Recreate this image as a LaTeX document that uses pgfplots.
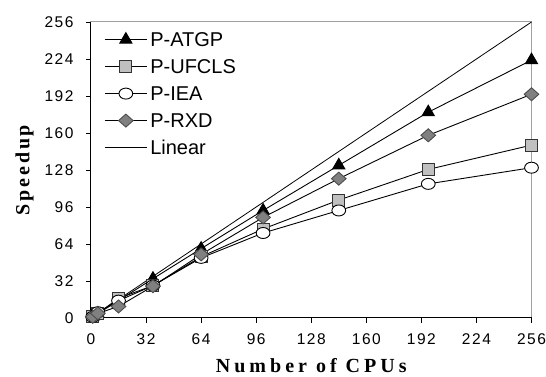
\documentclass[border=0pt]{standalone}
\usepackage{fontspec}
\setmainfont{Liberation Sans}
\newfontfamily\serifb{Liberation Serif}
\usepackage{pgfplots}
\pgfplotsset{compat=1.18}
\definecolor{sqgray}{HTML}{C0C0C0}
\definecolor{dmgray}{HTML}{808080}
\definecolor{boxgray}{HTML}{A0A0A0}
\begin{document}
\begin{tikzpicture}
\begin{axis}[
  scale only axis,
  width=440.5pt, height=296pt,
  xmin=0, xmax=256, ymin=0, ymax=256,
  xtick={0,32,...,256}, ytick={0,32,...,256},
  tick align=outside, xtick pos=bottom, ytick pos=left,
  major tick length=5pt,
  tick style={black, line width=0.8pt},
  axis line style={draw=boxgray, line width=1pt},
  clip=false,
  /pgf/number format/assume math mode=true,
  ticklabel style={font=\fontsize{15.5}{15.5}\selectfont\addfontfeature{LetterSpace=10}},
  xticklabel style={yshift=-7pt},
  yticklabel style={xshift=-9pt},
  xlabel={\serifb\bfseries\fontsize{20}{20}\selectfont\addfontfeature{LetterSpace=20}Number of CPUs},
  ylabel={\serifb\bfseries\fontsize{20}{20}\selectfont\addfontfeature{LetterSpace=14}Speedup},
  xlabel style={yshift=-7pt},
  ylabel style={yshift=4pt},
  legend style={draw=none, fill=none, at={(0.03,0.975)}, anchor=north west,
    font=\fontsize{20}{20}\selectfont, row sep=7pt, inner sep=0pt,
    nodes={text height=14pt, text depth=0pt, inner sep=3pt}},
  legend cell align=left,
  legend image code/.code={\draw[mark repeat=2,mark phase=2] plot coordinates {(0pt,0pt) (21pt,0pt) (42pt,0pt)};},
  every axis plot/.append style={line width=0.9pt, black},
]
\addplot[mark=triangle*, mark size=7pt, mark options={fill=black, draw=black}] coordinates {
(1,1) (4,3.8) (16,15) (36,34) (64,60) (100,93) (144,132) (196,178) (256,223)};
\addlegendentry{P-ATGP}
\addplot[mark=square*, mark size=6pt, mark options={fill=sqgray, draw=black!80}] coordinates {
(1,1) (4,4) (16,17) (36,28) (64,53) (100,77) (144,102) (196,128.5) (256,149.5)};
\addlegendentry{P-UFCLS}
\addplot[mark=*, mark size=5.5pt, mark options={fill=white, draw=black, xscale=1.25}] coordinates {
(1,1) (4,5) (16,15) (36,28) (64,52) (100,73.5) (144,93) (196,116) (256,130)};
\addlegendentry{P-IEA}
\addplot[mark=diamond*, mark size=6.5pt, mark options={fill=dmgray, draw=black!70, xscale=1.5}] coordinates {
(1,1) (4,4) (16,10) (36,27.5) (64,55) (100,87) (144,120.5) (196,158) (256,193.5)};
\addlegendentry{P-RXD}
\addplot[line width=0.8pt] coordinates {(1,1) (256,256)};
\addlegendentry{Linear}
\draw[black, line width=1pt] (rel axis cs:0,1) -- (rel axis cs:0,0) -- (rel axis cs:1,0);
\end{axis}
\pgfresetboundingbox
\path ([shift={(-91pt,-59pt)}]current axis.south west) rectangle ([shift={(14.5pt,22pt)}]current axis.north east);
\end{tikzpicture}
\end{document}
